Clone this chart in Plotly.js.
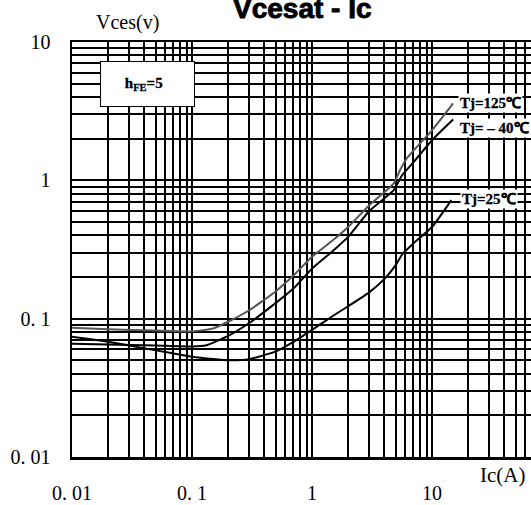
<!DOCTYPE html>
<html>
<head>
<meta charset="utf-8">
<script src="https://cdn.plot.ly/plotly-3.0.1.min.js"></script>
<style>
html,body{margin:0;padding:0;background:#fff;}
#chart{width:531px;height:505px;}
#chart .annotation[data-index="0"] text{stroke:#000;stroke-width:0.9px;}
#chart .annotation[data-index="4"] text,
#chart .annotation[data-index="5"] text,
#chart .annotation[data-index="6"] text,
#chart .annotation[data-index="3"] text{stroke:#000;stroke-width:0.3px;}
</style>
</head>
<body>
<div id="chart"></div>
<script>
// ---- data ----
const ic125 = [0.01, 0.02, 0.05, 0.1, 0.15, 0.2, 0.3, 0.5, 0.7, 1, 1.5, 2, 3, 4, 4.8, 5.4, 6.2, 10, 15];
const v125  = [0.086, 0.084, 0.082, 0.081, 0.085, 0.095, 0.115, 0.158, 0.205, 0.28, 0.37, 0.46, 0.66, 0.82, 0.95, 1.18, 1.45, 2.3, 3.6];

const icM40 = [0.01, 0.02, 0.05, 0.1, 0.13, 0.2, 0.3, 0.5, 0.7, 1, 1.5, 2, 3, 4, 4.8, 5.6, 7, 10, 15];
const vM40  = [0.066, 0.065, 0.064, 0.063, 0.064, 0.075, 0.093, 0.13, 0.165, 0.23, 0.31, 0.39, 0.6, 0.74, 0.85, 1.08, 1.35, 1.95, 2.75];

const ic25 = [0.01, 0.02, 0.05, 0.1, 0.15, 0.2, 0.3, 0.5, 0.7, 1, 1.5, 2, 3, 4, 5, 5.7, 7, 10, 14.5];
const v25  = [0.074, 0.068, 0.059, 0.053, 0.051, 0.050, 0.051, 0.058, 0.068, 0.083, 0.105, 0.123, 0.155, 0.193, 0.245, 0.295, 0.35, 0.46, 0.72];

const xMajor = [0.01, 0.1, 1, 10];
const xMajorLabels = ['0. 01', '0. 1', '1', '10'];
const yMajor = [0.01, 0.1, 1, 10];
const yMajorLabels = ['0. 01', '0. 1', '1', '10'];

const seriesNames = ['Tj=125℃', 'Tj= – 40℃', 'Tj=25℃'];

// grid positions: 1..9 in each decade; labels only on the decades
function gridVals(decades, labels) {
  const vals = [], txt = [];
  decades.forEach(function (d, i) {
    for (let m = 1; m <= 9; m++) {
      vals.push(d * m);
      txt.push(m === 1 ? labels[i] : '');
    }
  });
  return {vals: vals, txt: txt};
}
const gx = gridVals(xMajor, xMajorLabels);
const gy = gridVals(yMajor.slice(0, 3), yMajorLabels.slice(0, 3));
gy.vals.push(yMajor[3]);
gy.txt.push(yMajorLabels[3]);

const lineStyle = function (c) { return {color: c, width: 2, shape: 'spline', smoothing: 0.5}; };

const traces = [
  {x: ic125, y: v125, mode: 'lines', line: lineStyle('#555555'), name: seriesNames[0], hoverinfo: 'skip'},
  {x: icM40, y: vM40, mode: 'lines', line: lineStyle('#000000'), name: seriesNames[1], hoverinfo: 'skip'},
  {x: ic25, y: v25, mode: 'lines', line: lineStyle('#000000'), name: seriesNames[2], hoverinfo: 'skip'}
];

const tickFont = {family: 'Liberation Serif, serif', size: 20, color: '#000'};
const labFont = {family: 'Liberation Serif, serif', size: 15, color: '#000', weight: 'bold'};

function endLabel(xs, ys, text, xshift, yshift) {
  return {
    x: Math.log10(xs[xs.length - 1]), y: Math.log10(ys[ys.length - 1]),
    xref: 'x', yref: 'y', text: '<b>' + text + '</b>', showarrow: false,
    xanchor: 'left', yanchor: 'middle', xshift: xshift, yshift: yshift,
    bgcolor: '#ffffff', borderpad: 1, font: labFont
  };
}

const layout = {
  width: 531, height: 505,
  margin: {l: 72, r: 0, t: 42, b: 48, pad: 0},
  paper_bgcolor: '#fff', plot_bgcolor: '#fff',
  showlegend: false,
  xaxis: {
    type: 'log', range: [-2, -2 + 459 / 120],
    tickmode: 'array', tickvals: gx.vals, ticktext: gx.txt, tickangle: 0,
    showgrid: true, gridcolor: '#000', gridwidth: 2,
    showline: true, linecolor: '#000', linewidth: 2.5, mirror: true,
    ticks: '', tickfont: tickFont, ticklabelstandoff: 16, zeroline: false
  },
  yaxis: {
    type: 'log', range: [-2, 1],
    tickmode: 'array', tickvals: gy.vals, ticktext: gy.txt, tickangle: 0,
    showgrid: true, gridcolor: '#000', gridwidth: 2,
    showline: true, linecolor: '#000', linewidth: 2.5, mirror: false,
    ticks: '', tickfont: tickFont, ticklabelstandoff: 15, zeroline: false
  },
  annotations: [
    {xref: 'paper', yref: 'paper', x: (302 - 72) / 459, y: (457 - 9) / 415, xanchor: 'center', yanchor: 'middle',
     text: '<b>Vcesat - Ic</b>', showarrow: false,
     font: {family: 'Liberation Sans, Arial, sans-serif', size: 28, color: '#000'}},
    {xref: 'paper', yref: 'paper', x: (94 - 72) / 459, y: (457 - 22) / 415, xanchor: 'left', yanchor: 'middle',
     text: 'Vces(v)', showarrow: false, font: {family: 'Liberation Serif, serif', size: 20, color: '#000'}},
    {xref: 'paper', yref: 'paper', x: (478 - 72) / 459, y: (457 - 475) / 415, xanchor: 'left', yanchor: 'middle',
     text: 'Ic(A)', showarrow: false, font: {family: 'Liberation Serif, serif', size: 21, color: '#000'}},
    {xref: 'paper', yref: 'paper', x: (147.5 - 72) / 459, y: (457 - 84) / 415, xanchor: 'center', yanchor: 'middle',
     text: '<b>h<sub>FE</sub>=5</b>  ', showarrow: false, width: 91, height: 42, borderpad: 1,
     bgcolor: '#fff', bordercolor: '#000', borderwidth: 1,
     font: {family: 'Liberation Serif, serif', size: 15, color: '#000'}},
    endLabel(ic125, v125, seriesNames[0], 5, 0),
    endLabel(icM40, vM40, seriesNames[1], 5, -8),
    endLabel(ic25, v25, seriesNames[2], 9, 1)
  ]
};

Plotly.newPlot('chart', traces, layout, {staticPlot: true, displayModeBar: false});
</script>
</body>
</html>
